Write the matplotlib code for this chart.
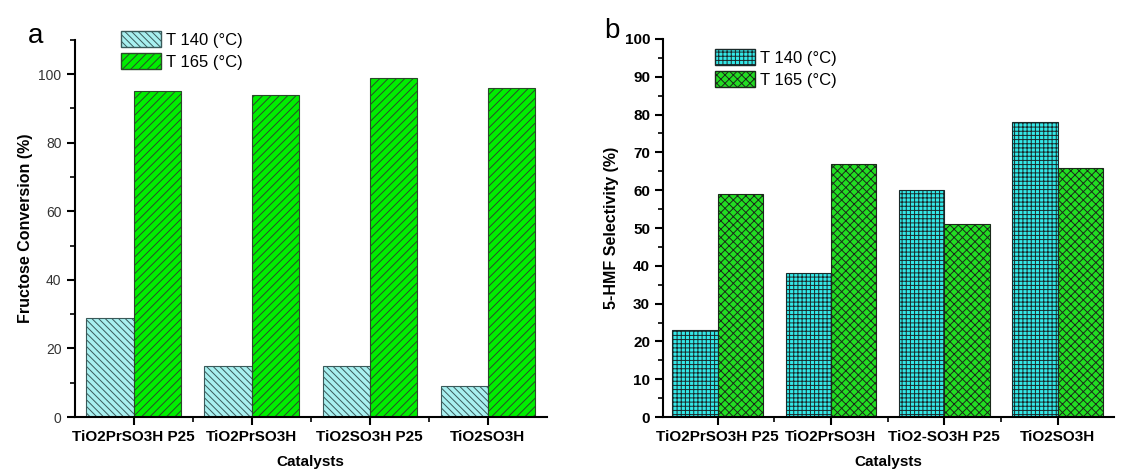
import numpy as np
import matplotlib.pyplot as plt
from matplotlib.patches import Patch

plt.rcParams['font.family'] = ['Liberation Sans', 'DejaVu Sans']
plt.rcParams['hatch.linewidth'] = 0.7

cats_a = ["TiO2PrSO3H P25", "TiO2PrSO3H", "TiO2SO3H P25", "TiO2SO3H"]
conv_140 = [29, 15, 15, 9]
conv_165 = [95, 94, 99, 96]

cats_b = ["TiO2PrSO3H P25", "TiO2PrSO3H", "TiO2-SO3H P25", "TiO2SO3H"]
sel_140 = [23, 38, 60, 78]
sel_165 = [59, 67, 51, 66]

fig = plt.figure(figsize=(11.3, 4.75), dpi=100)
ax1 = fig.add_axes([0.066, 0.122, 0.418, 0.794])
ax2 = fig.add_axes([0.587, 0.122, 0.399, 0.796])

x = np.arange(1, 5)
w = 0.4

# panel a
ax1.bar(x - w/2, conv_140, w, color='#a8f0f0', edgecolor='#3a5a5a', hatch='\\\\\\\\\\', linewidth=0.8)
ax1.bar(x + w/2, conv_165, w, color='#00ee00', edgecolor='#2a4a2a', hatch='////', linewidth=0.8)
ax1.set_xlim(0.5, 4.5)
ax1.set_ylim(0, 110)
ax1.set_yticks([0, 20, 40, 60, 80, 100])
ax1.set_yticks([10, 30, 50, 70, 90, 110], minor=True)
ax1.set_xticks(x)
ax1.set_xticks([1.5, 2.5, 3.5], minor=True)
ax1.set_xticklabels(cats_a, fontsize=11, fontweight='bold')
ax1.tick_params(axis='y', labelsize=10, labelcolor='#333333')
ax1.set_ylabel('Fructose Conversion (%)', fontsize=11.5, fontweight='bold')
ax1.set_xlabel('Catalysts', fontsize=11, fontweight='bold', labelpad=8)
h1 = [Patch(facecolor='#a8f0f0', edgecolor='#3a5a5a', hatch='\\\\\\\\\\'),
      Patch(facecolor='#00ee00', edgecolor='#2a4a2a', hatch='////')]
ax1.legend(h1, ['T 140 (°C)', 'T 165 (°C)'], loc='upper left', bbox_to_anchor=(0.085, 1.04),
           frameon=False, fontsize=12, handlelength=2.4, handleheight=1.1,
           labelspacing=0.3, handletextpad=0.3, borderaxespad=0)
fig.text(0.025, 0.91, 'a', fontsize=20)

# panel b
ax2.bar(x - w/2, sel_140, w, color='#33e8e8', edgecolor='#1a2a2a', hatch='++++', linewidth=0.8)
ax2.bar(x + w/2, sel_165, w, color='#22dd22', edgecolor='#1a2a1a', hatch='xxxx', linewidth=0.8)
ax2.set_xlim(0.52, 4.5)
ax2.set_ylim(0, 100)
ax2.set_yticks(np.arange(0, 101, 10))
ax2.set_yticks(np.arange(5, 100, 10), minor=True)
ax2.set_xticks(x)
ax2.set_xticks([1.5, 2.5, 3.5], minor=True)
ax2.set_xticklabels(cats_b, fontsize=11, fontweight='bold')
for t in ax2.get_yticklabels():
    t.set_fontweight('bold')
ax2.tick_params(axis='y', labelsize=11)
ax2.set_ylabel('5-HMF Selectivity (%)', fontsize=11.5, fontweight='bold')
ax2.set_xlabel('Catalysts', fontsize=11, fontweight='bold', labelpad=8)
h2 = [Patch(facecolor='#33e8e8', edgecolor='#1a2a2a', hatch='++++'),
      Patch(facecolor='#22dd22', edgecolor='#1a2a1a', hatch='xxxx')]
ax2.legend(h2, ['T 140 (°C)', 'T 165 (°C)'], loc='upper left', bbox_to_anchor=(0.1, 0.99),
           frameon=False, fontsize=12, handlelength=2.4, handleheight=1.1,
           labelspacing=0.3, handletextpad=0.3, borderaxespad=0)
fig.text(0.535, 0.92, 'b', fontsize=20)

for ax in (ax1, ax2):
    ax.spines['top'].set_visible(False)
    ax.spines['right'].set_visible(False)
    ax.spines['left'].set_linewidth(1.5)
    ax.spines['bottom'].set_linewidth(1.5)
    ax.tick_params(which='major', direction='out', length=6, width=1.5)
    ax.tick_params(which='minor', direction='out', length=3.5, width=1.2)

fig.savefig('out.png', dpi=100)
